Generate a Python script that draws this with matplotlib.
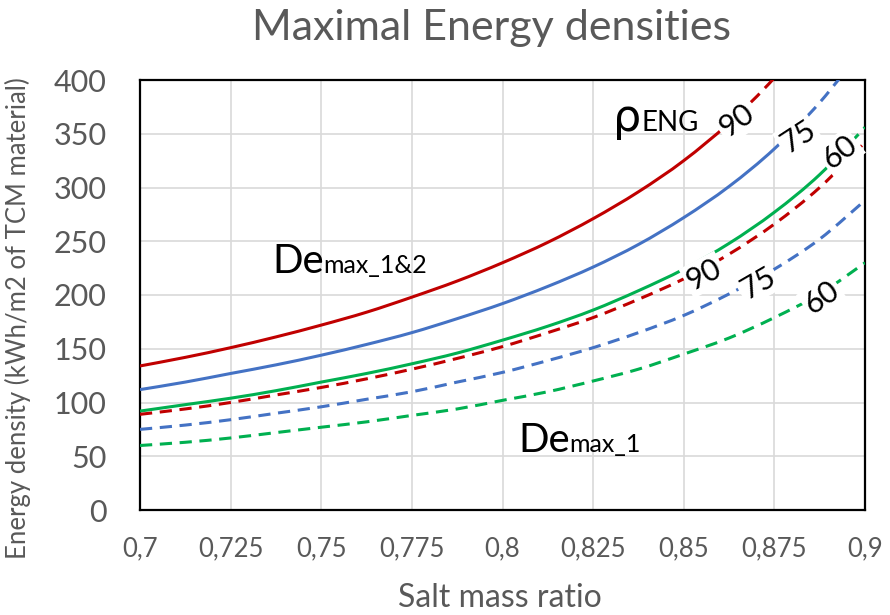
import matplotlib.pyplot as plt
from matplotlib.patches import Rectangle, PathPatch
from matplotlib.path import Path

# Salt mass ratio (x) and energy densities (kWh/m2)
salt_ratio = [0.7, 0.7125, 0.725, 0.7375, 0.75, 0.7625, 0.775, 0.7875, 0.8,
              0.8125, 0.825, 0.8375, 0.85, 0.8625, 0.875, 0.8875, 0.9]

# De_max_1&2 (solid), rho_ENG = 90 / 75 / 60
de12_90 = [134, 142, 151, 161, 172, 184, 198, 213, 230, 249, 271, 296, 325, 360, 402, 453, 517]
de12_75 = [112, 119, 127, 135, 144, 154, 165, 178, 192, 208, 226, 247, 272, 301, 336, 379, 432]
de12_60 = [92, 98, 104, 111, 119, 127, 136, 146, 158, 171, 186, 204, 224, 248, 277, 312, 356]

# De_max_1 (dashed), rho_ENG = 90 / 75 / 60
de1_90 = [89, 94, 100, 107, 114, 122, 131, 141, 152, 165, 179, 196, 215, 238, 266, 300, 342]
de1_75 = [75, 79, 84, 90, 96, 103, 110, 119, 128, 139, 151, 165, 181, 201, 224, 252, 288]
de1_60 = [60, 63, 67, 72, 77, 82, 88, 94, 102, 110, 120, 131, 145, 160, 179, 201, 230]

x_ticks = [0.7, 0.725, 0.75, 0.775, 0.8, 0.825, 0.85, 0.875, 0.9]
x_labels = ['0,7', '0,725', '0,75', '0,775', '0,8', '0,825', '0,85', '0,875', '0,9']
y_ticks = [0, 50, 100, 150, 200, 250, 300, 350, 400]

rho_labels = ['90', '75', '60']

RED = '#C00000'
BLUE = '#4472C4'
GREEN = '#00B050'
GREY = '#595959'

plt.rcParams['font.family'] = ['Lato', 'DejaVu Sans']

fig = plt.figure(figsize=(8.9, 6.15), dpi=100)
ax = fig.add_axes([140 / 890, 1 - 510 / 615, 725 / 890, 430 / 615])

lw = 2.2
dash = (4, 2.5)


def smooth_path(xs, ys):
    # Excel-like smoothed line: Catmull-Rom segments as cubic Beziers
    pts = list(zip(xs, ys))
    verts = [pts[0]]
    codes = [Path.MOVETO]
    n = len(pts)
    for i in range(n - 1):
        p0 = pts[max(i - 1, 0)]
        p1 = pts[i]
        p2 = pts[i + 1]
        p3 = pts[min(i + 2, n - 1)]
        c1 = (p1[0] + (p2[0] - p0[0]) / 6, p1[1] + (p2[1] - p0[1]) / 6)
        c2 = (p2[0] - (p3[0] - p1[0]) / 6, p2[1] - (p3[1] - p1[1]) / 6)
        verts += [c1, c2, p2]
        codes += [Path.CURVE4] * 3
    return Path(verts, codes)


def curve(vals, col, ls, x0=0.7, x1=0.9):
    p = PathPatch(smooth_path(salt_ratio, vals), fill=False, edgecolor=col, lw=lw,
                  linestyle=ls, capstyle='butt', zorder=3)
    ax.add_patch(p)
    p.set_clip_path(Rectangle((x0, 0), x1 - x0, 400, transform=ax.transData))
    return p


def curve_label(x, y, txt, rot):
    ax.text(x, y, txt, rotation=rot, rotation_mode='anchor', ha='center', va='center',
            fontsize=22, color='black', zorder=5,
            bbox=dict(boxstyle='square,pad=0.08', fc='white', ec='none'))


# solid curves turn dashed past their label
solid = [(de12_90, RED, 0.8647, 35), (de12_75, BLUE, 0.8815, 33), (de12_60, GREEN, 0.8931, 38)]
solid_lab_y = [362, 347, 333]
for (vals, col, xb, rot), lab, ly in zip(solid, rho_labels, solid_lab_y):
    curve(vals, col, '-', 0.7, xb)
    curve(vals, col, (0, dash), xb, 0.9)
    curve_label(xb, ly, lab, rot)

dashed = [(de1_90, RED), (de1_75, BLUE), (de1_60, GREEN)]
dashed_lab = [(0.8556, 219, 28), (0.8705, 211, 30), (0.8881, 198, 35)]
for (vals, col), lab, (lx, ly, rot) in zip(dashed, rho_labels, dashed_lab):
    curve(vals, col, (0, dash))
    curve_label(lx, ly, lab, rot)

ax.set_xlim(0.7, 0.9)
ax.set_ylim(0, 400)
ax.set_xticks(x_ticks)
ax.set_xticklabels(x_labels)
ax.set_yticks(y_ticks)
ax.tick_params(axis='x', length=0, pad=19, labelsize=18.5, labelcolor=GREY)
ax.tick_params(axis='y', length=0, pad=24, labelsize=22, labelcolor=GREY)
ax.grid(True, color='#D9D9D9', lw=1.2)
ax.set_axisbelow(True)
for s in ax.spines.values():
    s.set_linewidth(1.6)
    s.set_color('black')


# big symbol + small suffix, suffix placed right after the symbol
def sub_label(x, y, big, small, big_size, small_size, family=None):
    kw = {'family': family} if family else {}
    t = ax.text(x, y, big, fontsize=big_size, va='baseline', ha='left', zorder=6, **kw)
    fig.canvas.draw()
    bb = t.get_window_extent()
    xs = ax.transData.inverted().transform((bb.x1, 0))[0]
    ax.text(xs, y, small, fontsize=small_size, va='baseline', ha='left', zorder=6)


sub_label(0.7364, 220.5, 'De', 'max_1&2', 29, 18)
sub_label(0.8043, 54, 'De', 'max_1', 29, 18)
sub_label(0.8305, 352.6, '\u03c1', 'ENG', 32, 20, family='DejaVu Sans')

fig.text(492 / 890, 1 - 28 / 615, 'Maximal Energy densities', fontsize=31, color=GREY,
         ha='center', va='center')
fig.text(500 / 890, 1 - 598 / 615, 'Salt mass ratio', fontsize=23, color=GREY,
         ha='center', va='center')
fig.text(18 / 890, 1 - 318 / 615, 'Energy density (kWh/m2 of TCM material)', fontsize=18.5,
         color=GREY, ha='center', va='center', rotation=90)

fig.savefig('out.png', dpi=100)
